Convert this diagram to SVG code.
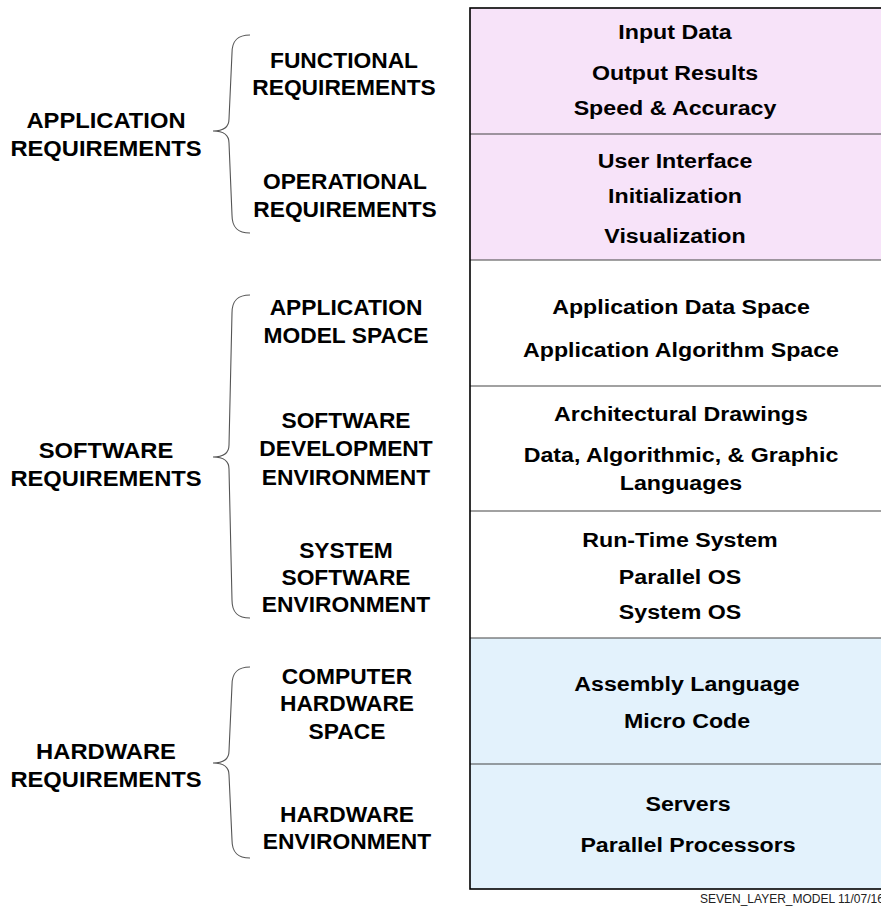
<svg xmlns="http://www.w3.org/2000/svg" width="881" height="907" viewBox="0 0 881 907">
  <style>
    text { font-family: "Liberation Sans", Arial, Helvetica, sans-serif; font-weight: bold; fill: #000; text-anchor: middle; }
    .grp { font-size: 22px; }
    .sub { font-size: 21.5px; }
    .cell { font-size: 20px; }
    .pink { fill: #F7E3F9; }
    .blue { fill: #E3F2FC; }
    .white { fill: #FFFFFF; }
    .div { stroke: #444; stroke-width: 1.2; }
    .brace { fill: none; stroke: #555; stroke-width: 1.1; }
    .foot { font-family: "Liberation Sans", Arial, sans-serif; font-weight: normal; font-size: 12px; fill: #222; text-anchor: start; }
  </style>

  <rect x="0" y="0" width="881" height="907" fill="#FFFFFF"/>

  <!-- seven stacked layer rows -->
  <g id="layer-functional">
    <rect class="pink" x="470" y="8" width="420" height="126"/>
    <g transform="translate(675,0) scale(1.16,1)">
      <text class="cell" x="0" y="39">Input Data</text>
      <text class="cell" x="0" y="80">Output Results</text>
      <text class="cell" x="0" y="115">Speed &amp; Accuracy</text>
    </g>
  </g>
  <g id="layer-operational">
    <rect class="pink" x="470" y="134" width="420" height="126"/>
    <g transform="translate(675,0) scale(1.16,1)">
      <text class="cell" x="0" y="168">User Interface</text>
      <text class="cell" x="0" y="203">Initialization</text>
      <text class="cell" x="0" y="243">Visualization</text>
    </g>
  </g>
  <g id="layer-app-model">
    <rect class="white" x="470" y="260" width="420" height="126"/>
    <g transform="translate(681,0) scale(1.16,1)">
      <text class="cell" x="0" y="314">Application Data Space</text>
      <text class="cell" x="0" y="357">Application Algorithm Space</text>
    </g>
  </g>
  <g id="layer-sw-dev">
    <rect class="white" x="470" y="386" width="420" height="125"/>
    <g transform="translate(681,0) scale(1.16,1)">
      <text class="cell" x="0" y="421">Architectural Drawings</text>
      <text class="cell" x="0" y="462">Data, Algorithmic, &amp; Graphic</text>
      <text class="cell" x="0" y="490">Languages</text>
    </g>
  </g>
  <g id="layer-sys-sw">
    <rect class="white" x="470" y="511" width="420" height="127"/>
    <g transform="translate(680,0) scale(1.16,1)">
      <text class="cell" x="0" y="547">Run-Time System</text>
      <text class="cell" x="0" y="584">Parallel OS</text>
      <text class="cell" x="0" y="619">System OS</text>
    </g>
  </g>
  <g id="layer-hw-space">
    <rect class="blue" x="470" y="638" width="420" height="126"/>
    <g transform="translate(687,0) scale(1.16,1)">
      <text class="cell" x="0" y="691">Assembly Language</text>
      <text class="cell" x="0" y="728">Micro Code</text>
    </g>
  </g>
  <g id="layer-hw-env">
    <rect class="blue" x="470" y="764" width="420" height="125"/>
    <g transform="translate(688,0) scale(1.16,1)">
      <text class="cell" x="0" y="811">Servers</text>
      <text class="cell" x="0" y="852">Parallel Processors</text>
    </g>
  </g>

  <!-- row dividers and outer frame -->
  <g id="frame">
    <line class="div" x1="470" y1="134" x2="890" y2="134"/>
    <line class="div" x1="470" y1="260" x2="890" y2="260"/>
    <line class="div" x1="470" y1="386" x2="890" y2="386"/>
    <line class="div" x1="470" y1="511" x2="890" y2="511"/>
    <line class="div" x1="470" y1="638" x2="890" y2="638"/>
    <line class="div" x1="470" y1="764" x2="890" y2="764"/>
    <rect x="470" y="8" width="420" height="881" fill="none" stroke="#000" stroke-width="1.6"/>
  </g>

  <!-- requirement group labels -->
  <g id="grp-application" transform="translate(106,0) scale(1.08,1)">
    <text class="grp" x="0" y="128">APPLICATION</text>
    <text class="grp" x="0" y="156">REQUIREMENTS</text>
  </g>
  <g id="grp-software" transform="translate(106,0) scale(1.08,1)">
    <text class="grp" x="0" y="458">SOFTWARE</text>
    <text class="grp" x="0" y="486">REQUIREMENTS</text>
  </g>
  <g id="grp-hardware" transform="translate(106,0) scale(1.08,1)">
    <text class="grp" x="0" y="759">HARDWARE</text>
    <text class="grp" x="0" y="787">REQUIREMENTS</text>
  </g>

  <!-- sub-requirement labels -->
  <g id="sub-functional" transform="translate(344,0) scale(1.06,1)">
    <text class="sub" x="0" y="68">FUNCTIONAL</text>
    <text class="sub" x="0" y="95">REQUIREMENTS</text>
  </g>
  <g id="sub-operational" transform="translate(345,0) scale(1.06,1)">
    <text class="sub" x="0" y="189">OPERATIONAL</text>
    <text class="sub" x="0" y="217">REQUIREMENTS</text>
  </g>
  <g id="sub-app-model" transform="translate(346,0) scale(1.06,1)">
    <text class="sub" x="0" y="315">APPLICATION</text>
    <text class="sub" x="0" y="343">MODEL SPACE</text>
  </g>
  <g id="sub-sw-dev" transform="translate(346,0) scale(1.06,1)">
    <text class="sub" x="0" y="428">SOFTWARE</text>
    <text class="sub" x="0" y="456">DEVELOPMENT</text>
    <text class="sub" x="0" y="485">ENVIRONMENT</text>
  </g>
  <g id="sub-sys-sw" transform="translate(346,0) scale(1.06,1)">
    <text class="sub" x="0" y="558">SYSTEM</text>
    <text class="sub" x="0" y="585">SOFTWARE</text>
    <text class="sub" x="0" y="612">ENVIRONMENT</text>
  </g>
  <g id="sub-hw-space" transform="translate(347,0) scale(1.06,1)">
    <text class="sub" x="0" y="684">COMPUTER</text>
    <text class="sub" x="0" y="711">HARDWARE</text>
    <text class="sub" x="0" y="739">SPACE</text>
  </g>
  <g id="sub-hw-env" transform="translate(347,0) scale(1.06,1)">
    <text class="sub" x="0" y="822">HARDWARE</text>
    <text class="sub" x="0" y="849">ENVIRONMENT</text>
  </g>

  <!-- curly braces joining each group to its sub-requirements -->
  <g id="connectors">
    <path class="brace" d="M250,35 C238,35 232,40 232,53 L229,119 C229,127 224,131 213,131 C224,131 229,135 229,143 L232,215 C232,228 238,233 250,233"/>
    <path class="brace" d="M250,295 C238,295 232,300 232,313 L229,445 C229,453 224,457 213,457 C224,457 229,461 229,469 L232,600 C232,613 238,618 250,618"/>
    <path class="brace" d="M250,667 C238,667 232,672 232,685 L229,751 C229,759 224,763 213,763 C224,763 229,767 229,775 L232,840 C232,853 238,858 250,858"/>
  </g>

  <text class="foot" x="700" y="903">SEVEN_LAYER_MODEL 11/07/16</text>
</svg>
